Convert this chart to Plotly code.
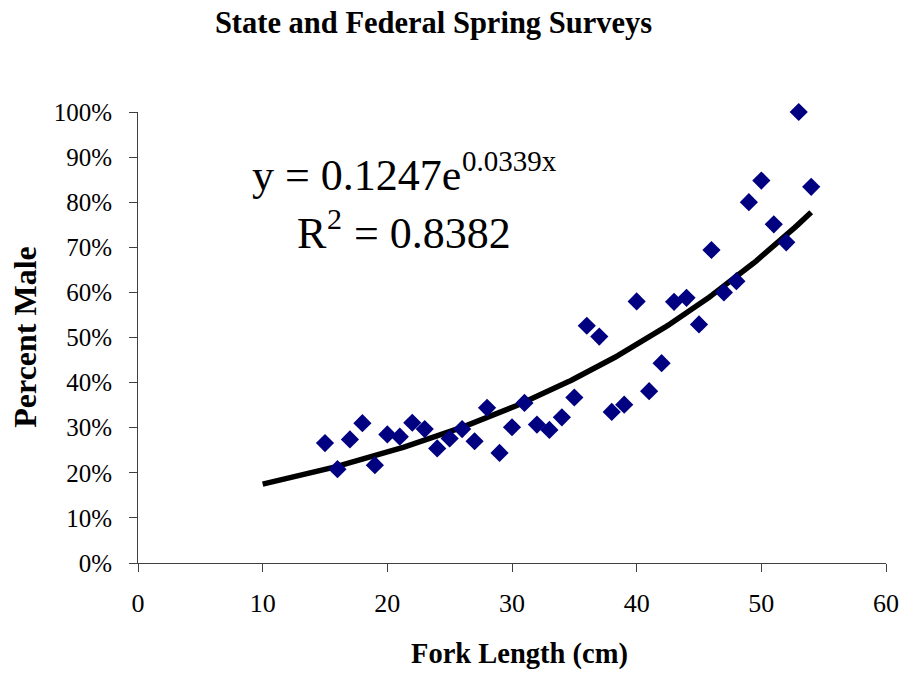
import numpy as np
import plotly.graph_objects as go

# ---- data ----
fork_length = [15, 16, 17, 18, 19, 20, 21, 22, 23, 24, 25, 26, 27, 28, 29, 30, 31, 32, 33, 34,
               35, 36, 37, 38, 39, 40, 41, 42, 43, 44, 45, 46, 47, 48, 49, 50, 51, 52, 53, 54]
percent_male = [0.266, 0.208, 0.274, 0.310, 0.217, 0.285, 0.280, 0.311, 0.297, 0.254,
                0.276, 0.297, 0.270, 0.344, 0.244, 0.301, 0.355, 0.307, 0.295, 0.323,
                0.367, 0.526, 0.502, 0.335, 0.351, 0.580, 0.381, 0.443, 0.579, 0.588,
                0.529, 0.694, 0.600, 0.625, 0.800, 0.848, 0.751, 0.711, 1.000, 0.834]

# exponential trendline as printed on the chart: y = 0.1247 e^(0.0339 x)
trend_a = 0.1247
trend_b = 0.0339
trend_range = (10, 54)

title_text = "State and Federal Spring Surveys"
x_title = "Fork Length (cm)"
y_title = "Percent Male"
x_ticks = [0, 10, 20, 30, 40, 50, 60]
y_ticks = [0, 0.1, 0.2, 0.3, 0.4, 0.5, 0.6, 0.7, 0.8, 0.9, 1.0]

trend_x = np.linspace(trend_range[0], trend_range[1], 200)
trend_y = trend_a * np.exp(trend_b * trend_x)

FONT = "Liberation Serif"
W, H = 904, 675
L, R, T, B = 138, 886.5, 112, 562.7


def px(xp):
    return (xp - L) / (R - L)


def py(yp):
    return (B - yp) / (B - T)


fig = go.Figure()
fig.add_trace(go.Scatter(
    x=trend_x, y=trend_y, mode="lines",
    line=dict(color="black", width=5.5), hoverinfo="skip", showlegend=False))
fig.add_trace(go.Scatter(
    x=fork_length, y=percent_male, mode="markers",
    marker=dict(symbol="diamond", size=14, color="#000080", line=dict(width=0)),
    cliponaxis=False, showlegend=False))

axis_common = dict(
    showgrid=False, zeroline=False, showline=True, linecolor="#404040", linewidth=1,
    ticks="outside", ticklen=8, tickcolor="#404040", tickwidth=1, automargin=False,
)
fig.update_xaxes(range=[0, 60], tickvals=x_ticks, ticklabelstandoff=9,
                 tickfont=dict(family=FONT, size=26, color="black"), **axis_common)
fig.update_yaxes(range=[0, 1], tickvals=y_ticks, tickformat=".0%", ticklabelstandoff=12,
                 tickfont=dict(family=FONT, size=25, color="black"), **axis_common)


def ann(text, xl, ybase, size, bold=False, anchor="left"):
    fig.add_annotation(
        text=f"<b>{text}</b>" if bold else text,
        x=px(xl), y=py(ybase + 0.216 * size), xref="paper", yref="paper",
        xanchor=anchor, yanchor="bottom", showarrow=False, borderpad=0,
        font=dict(family=FONT, size=size, color="black"))


# equation and R^2 (superscripts as separate, smaller texts)
ann("y = 0.1247e", 251, 191, 44)
ann("0.0339x", 461, 172, 29)
ann("R", 296, 249, 44)
ann("2", 326.5, 229, 30)
ann("= 0.8382", 353, 249, 44)

# axis titles
ann(x_title, 519.5, 664, 28.5, bold=True, anchor="center")
fig.add_annotation(
    text=f"<b>{y_title}</b>", x=px(25.5), y=py(337), xref="paper", yref="paper",
    xanchor="center", yanchor="middle", textangle=-90, showarrow=False,
    font=dict(family=FONT, size=32, color="black"))

fig.update_layout(
    width=W, height=H,
    margin=dict(l=L, r=W - R, t=T, b=H - B, pad=0),
    paper_bgcolor="white", plot_bgcolor="white",
    title=dict(text=f"<b>{title_text}</b>", x=433.5 / W, xanchor="center",
               xref="container", yref="container",
               y=1 - (25 + 0.216 * 30.5 + 1) / H, yanchor="bottom",
               font=dict(family=FONT, size=30.5, color="black")),
    font=dict(family=FONT),
)

fig.write_html("out.html", config={"displayModeBar": False},
               post_script="document.body.style.margin='0';")
